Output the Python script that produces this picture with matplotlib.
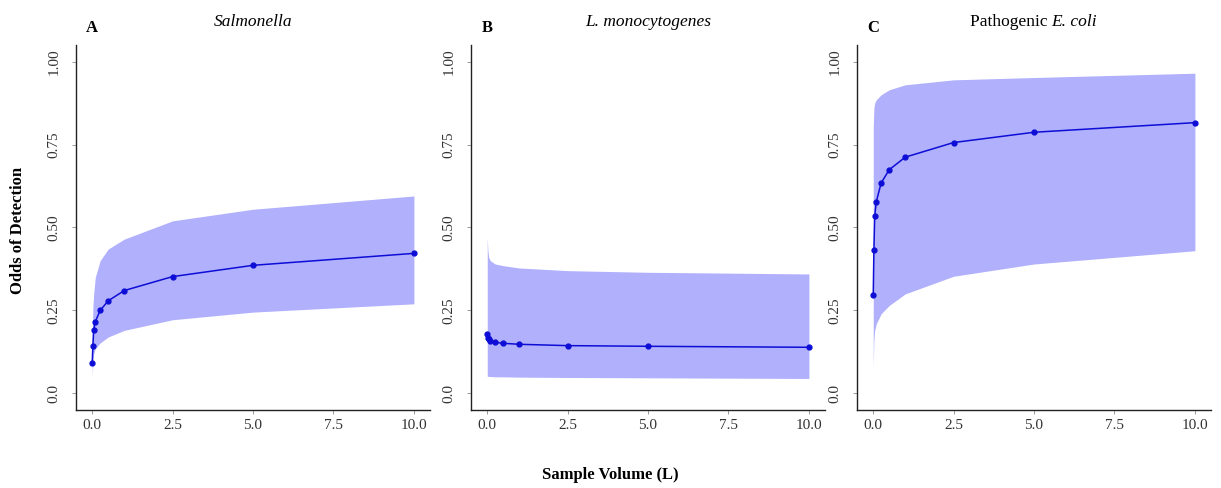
import matplotlib.pyplot as plt
import numpy as np

plt.rcParams['font.family'] = ['Liberation Serif', 'DejaVu Serif']

# sample volumes (L)
vol = [0.005, 0.025, 0.05, 0.1, 0.25, 0.5, 1, 2.5, 5, 10]

sal_odds = [0.093, 0.144, 0.192, 0.216, 0.25, 0.279, 0.31, 0.352, 0.386, 0.422]
sal_hi = [0.17, 0.26, 0.30, 0.35, 0.40, 0.435, 0.465, 0.52, 0.555, 0.595]
sal_lo = [0.05, 0.10, 0.12, 0.135, 0.152, 0.17, 0.19, 0.222, 0.245, 0.27]

lis_odds = [0.18, 0.168, 0.163, 0.158, 0.154, 0.151, 0.148, 0.144, 0.142, 0.139]
lis_hi = [0.47, 0.43, 0.41, 0.40, 0.39, 0.385, 0.378, 0.37, 0.365, 0.36]
lis_lo = [0.052, 0.052, 0.051, 0.051, 0.05, 0.05, 0.049, 0.048, 0.047, 0.045]

eco_odds = [0.296, 0.432, 0.534, 0.578, 0.634, 0.674, 0.712, 0.756, 0.787, 0.816]
eco_hi = [0.80, 0.86, 0.875, 0.885, 0.90, 0.915, 0.93, 0.945, 0.952, 0.965]
eco_lo = [0.08, 0.16, 0.19, 0.21, 0.24, 0.265, 0.30, 0.353, 0.39, 0.43]

titles = ['Salmonella', 'L. monocytogenes', 'E. coli']
letters = ['A', 'B', 'C']
yticks = [0.0, 0.25, 0.5, 0.75, 1.0]
ytick_labels = ['0.0', '0.25', '0.50', '0.75', '1.00']
xticks = [0.0, 2.5, 5.0, 7.5, 10.0]

fig = plt.figure(figsize=(12.21, 4.88), dpi=100)
lefts = [76 / 1221, 471 / 1221, 857 / 1221]
data = [(sal_odds, sal_lo, sal_hi), (lis_odds, lis_lo, lis_hi), (eco_odds, eco_lo, eco_hi)]

for i in range(3):
    ax = fig.add_axes([lefts[i], 78 / 488, 354 / 1221, 365 / 488])
    odds, lo, hi = data[i]
    ax.fill_between(vol, lo, hi, color='#b0b0fc', lw=0)
    ax.plot(vol, odds, color='#0d0dd6', lw=1.1, marker='o', ms=3.5)
    ax.set_xlim(-0.5, 10.5)
    ax.set_ylim(-0.05, 1.05)
    ax.set_xticks(xticks)
    ax.set_xticklabels(['%.1f' % t for t in xticks], fontsize=11, color='#333333')
    ax.set_yticks(yticks)
    ax.set_yticklabels(ytick_labels, fontsize=11, color='#333333', rotation=90, va='center')
    ax.tick_params(length=3, color='#888888', width=0.6)
    ax.tick_params(axis='y', pad=8)
    for s in ['top', 'right']:
        ax.spines[s].set_visible(False)
    for s in ['left', 'bottom']:
        ax.spines[s].set_linewidth(1.0)
        ax.spines[s].set_color('#222222')
    if i < 2:
        ax.text(0.5, 1.063, titles[i], transform=ax.transAxes, fontsize=12.5,
                fontstyle='italic', ha='center', va='center')
    else:
        t1 = ax.text(0.55, 1.063, 'Pathogenic ', transform=ax.transAxes, fontsize=12.5,
                     ha='right', va='center')
        ax.annotate(titles[i], xy=(1, 0), xycoords=t1, fontsize=12.5, fontstyle='italic',
                    ha='left', va='bottom')
    ax.text(0.046, 1.047, letters[i], transform=ax.transAxes, fontsize=12, fontweight='bold',
            ha='center', va='center')

fig.text(18 / 1221, 1 - 230 / 488, 'Odds of Detection', rotation=90, fontsize=12,
         fontweight='bold', ha='center', va='center')
fig.text(610 / 1221, 1 - 475 / 488, 'Sample Volume (L)', fontsize=12,
         fontweight='bold', ha='center', va='center')

fig.savefig('out.png', dpi=100)
